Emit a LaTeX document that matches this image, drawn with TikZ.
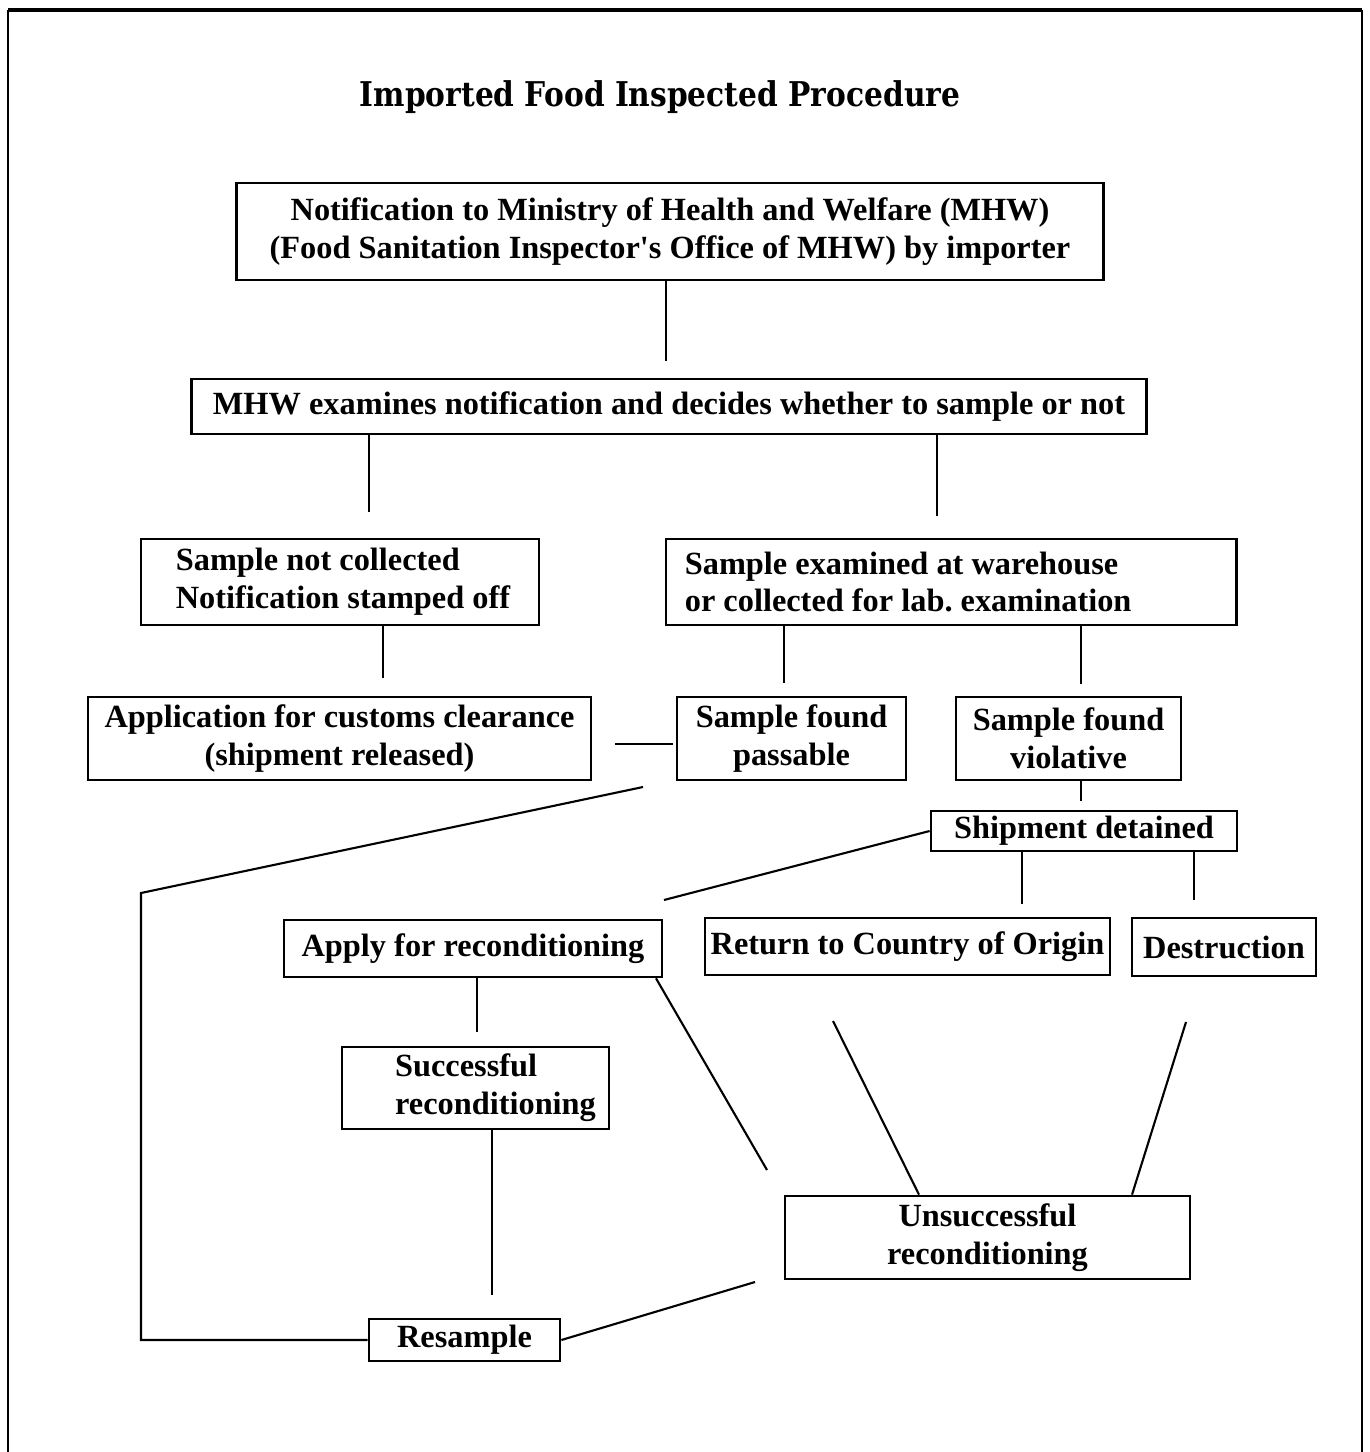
\documentclass[tikz,border=0pt]{standalone}
\usepackage{fontspec}
\setmainfont{Liberation Serif}
\newfontfamily\titlefont{DejaVu Serif}[FakeStretch=0.87]

\begin{document}
\begin{tikzpicture}[x=0.01cm, y=-0.01cm]
    \tikzstyle{box} = [rectangle, draw, line width=0.75pt, inner sep=0pt, align=center, font=\fontsize{9.2}{10.8}\selectfont\bfseries]
    \tikzstyle{link} = [draw, line width=0.6pt]
    \tikzstyle{frame} = [draw, line width=0.6pt]

    \useasboundingbox (0,0) rectangle (1369,1452);

    % page frame
    \draw[frame] (8,1452) -- (8,10);
    \draw[frame] (1362,10) -- (1362,1452);
    \draw[frame, line width=1.3pt] (8,10) -- (1362,10);

    \node [font=\titlefont\fontsize{9.7}{11}\selectfont\bfseries] (title) at (660,97) {Imported Food Inspected Procedure};

    \node [box, minimum width=8.66cm, minimum height=0.97cm] (notify) at (670,231.5) {Notification to Ministry of Health and Welfare (MHW)\\(Food Sanitation Inspector\textquotesingle s Office of MHW) by importer};
    \node [box, minimum width=9.54cm, minimum height=0.55cm] (mhw) at (669,406.5) {MHW examines notification and decides whether to sample or not};
    \node [box, minimum width=3.98cm, minimum height=0.86cm, align=left] (notcoll) at (340,582) {\hspace*{0.6mm}Sample not collected\\\hspace*{0.6mm}Notification stamped off};
    \node [box, minimum width=5.70cm, minimum height=0.86cm, align=flush left, text width=5.32cm, inner xsep=1.9mm] (exam) at (951,582) {Sample examined at warehouse\\or collected for lab.\ examination};
    \node [box, minimum width=5.03cm, minimum height=0.83cm] (customs) at (339.5,738.5) {Application for customs clearance\\(shipment released)};
    \node [box, minimum width=2.29cm, minimum height=0.83cm] (pass) at (791.5,738.5) {Sample found\\passable};
    \node [box, minimum width=2.25cm, minimum height=0.83cm] (viol) at (1068.5,738.5) {Sample found\\violative};
    \node [box, minimum width=3.06cm, minimum height=0.40cm] (detained) at (1084,831) {Shipment detained};
    \node [box, minimum width=3.78cm, minimum height=0.57cm] (apply) at (473,948.5) {Apply for reconditioning};
    \node [box, minimum width=4.05cm, minimum height=0.57cm] (return) at (907.5,946.5) {Return to Country of Origin};
    \node [box, minimum width=1.84cm, minimum height=0.58cm] (destr) at (1224,947) {Destruction};
    \node [box, minimum width=2.67cm, minimum height=0.82cm, align=left] (success) at (475.5,1088) {\hspace*{4mm}Successful\\\hspace*{4mm}reconditioning};
    \node [box, minimum width=4.05cm, minimum height=0.83cm] (unsucc) at (987.5,1237.5) {Unsuccessful\\reconditioning};
    \node [box, minimum width=1.91cm, minimum height=0.42cm] (resample) at (464.5,1340) {Resample};

    % loose ends of the connectors
    \coordinate (passend) at (643,787);
    \coordinate (bend) at (141,893);
    \coordinate (detend) at (664,900);
    \coordinate (applyend) at (767,1170);
    \coordinate (retend) at (833,1021);
    \coordinate (destend) at (1186,1022);
    \coordinate (resend) at (755,1282);

    \draw[link, shorten >=1.7mm] (666,0 |- notify.south) -- (666,0 |- mhw.north);
    \draw[link, shorten >=2.6mm] (369,0 |- mhw.south) -- (369,0 |- notcoll.north);
    \draw[link, shorten >=2.2mm] (937,0 |- mhw.south) -- (937,0 |- exam.north);
    \draw[link, shorten >=1.8mm] (383,0 |- notcoll.south) -- (383,0 |- customs.north);
    \draw[link, shorten >=1.3mm] (784,0 |- exam.south) -- (784,0 |- pass.north);
    \draw[link, shorten >=1.2mm] (1081,0 |- exam.south) -- (1081,0 |- viol.north);
    \draw[link, shorten <=2.3mm, shorten >=0.3mm] (customs.east |- 0,744) -- (pass.west |- 0,744);
    \draw[link, shorten >=0.9mm] (1081,0 |- viol.south) -- (1081,0 |- detained.north);
    \draw[link] (detained.west) -- (detend);
    \draw[link, shorten >=1.3mm] (1022,0 |- detained.south) -- (1022,0 |- return.north);
    \draw[link, shorten >=1.7mm] (1194,0 |- detained.south) -- (1194,0 |- destr.north);
    \draw[link, shorten >=1.4mm] (477,0 |- apply.south) -- (477,0 |- success.north);
    \draw[link, shorten >=2.3mm] (492,0 |- success.south) -- (492,0 |- resample.north);
    \draw[link] (passend) -- (bend) -- (bend |- resample.west) -- (resample.west);
    \draw[link] (656,0 |- apply.south) -- (applyend);
    \draw[link] (retend) -- (919,0 |- unsucc.north);
    \draw[link] (destend) -- (1132,0 |- unsucc.north);
    \draw[link] (resample.east) -- (resend);
\end{tikzpicture}
\end{document}
